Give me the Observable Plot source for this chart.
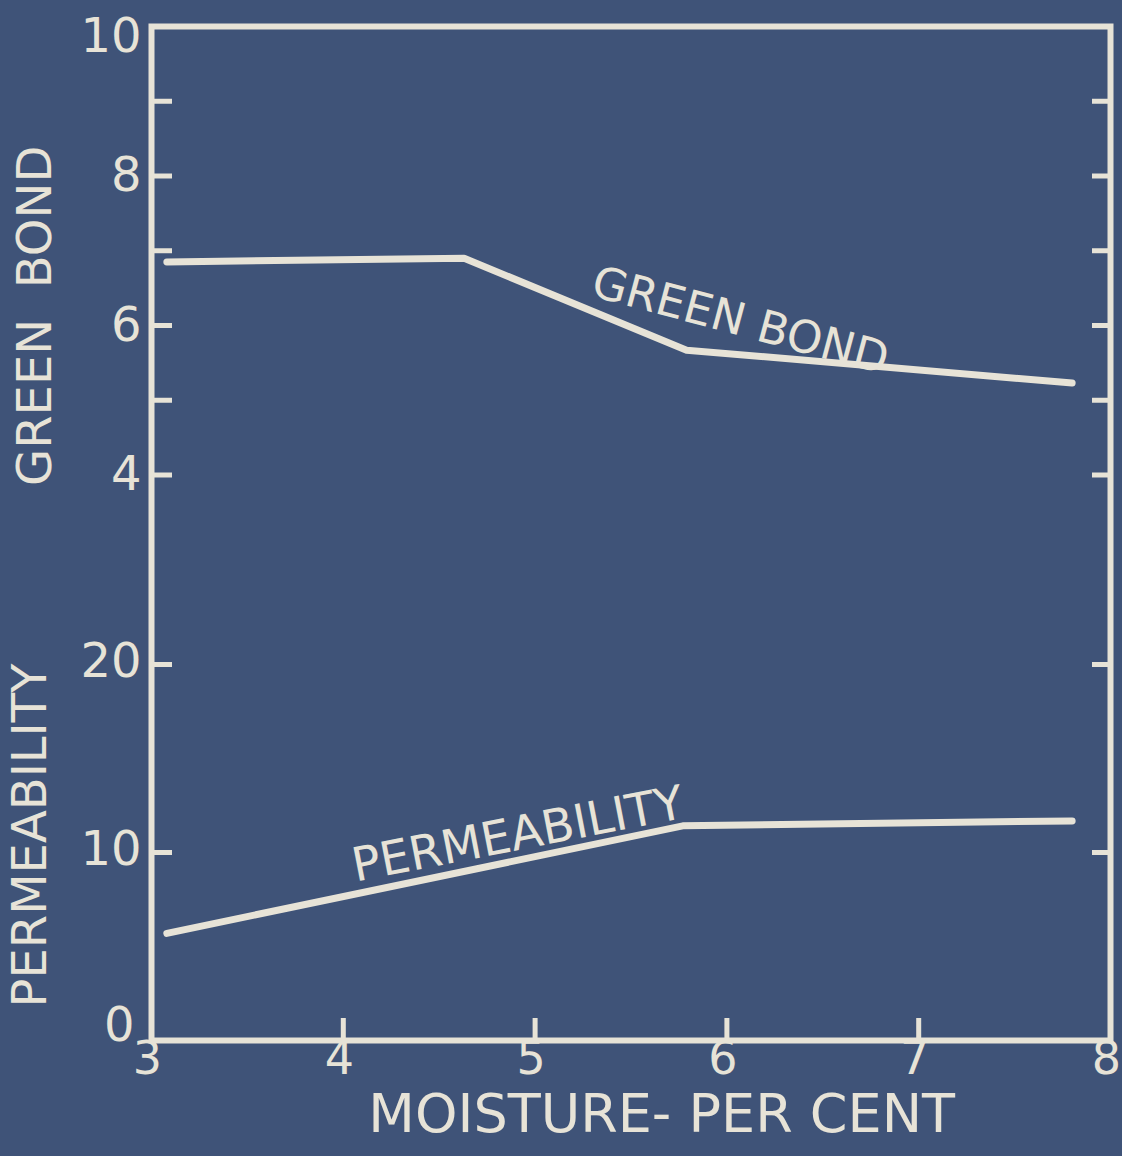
<!DOCTYPE html>
<html>
<head>
<meta charset="utf-8">
<script src="https://cdn.jsdelivr.net/npm/d3@7"></script>
<script src="https://cdn.jsdelivr.net/npm/@observablehq/plot@0.6"></script>
<style>
  html, body { margin: 0; padding: 0; background: #3f5378; }
  #chart svg { display: block; }
</style>
</head>
<body>
<div id="chart"></div>
<script>
// ---- Data ----
const greenBondMoisture = [3.08, 4.63, 5.79, 7.80];
const greenBondValues   = [6.85, 6.90, 5.67, 5.23];

const permMoisture = [3.08, 5.77, 7.80];
const permValues   = [5.70, 11.42, 11.68];

const xTickValues = [3, 4, 5, 6, 7, 8];
const xTickMarks = [4, 5, 6, 7];
const greenBondTickLabels = [4, 6, 8, 10];
const greenBondTickMarks = [4, 5, 6, 7, 8, 9];
const permTickLabels = [0, 10, 20];
const permTickMarks = [10, 20];

const xTitle = "MOISTURE- PER CENT";
const yTitleTop = "GREEN\u00a0\u00a0BOND";
const yTitleBottom = "PERMEABILITY";
const seriesNames = ["GREEN BOND", "PERMEABILITY"];

// ---- Layout / styling ----
const BG = "#3f5378";
const INK = "#e7e3d7";
const W = 1122, H = 1156;
const mL = 151, mR = 12, mT = 26, mB = 116;
const plotW = W - mL - mR, plotH = H - mT - mB;
const pxPerX = plotW / 5;           // px per moisture unit
const pxPerPerm = 18.8;             // px per permeability unit
const pxPerBond = 74.75;            // px per green bond unit
const Y_TOP = plotH / pxPerPerm;    // shared vertical domain (permeability units)
const BOND4 = (H - mB - 474.5) / pxPerPerm; // where bond = 4 sits
const yBond = g => BOND4 + (g - 4) * pxPerBond / pxPerPerm;

const bondData = greenBondMoisture.map((m, i) => ({moisture: m, bond: greenBondValues[i]}));
const permData = permMoisture.map((m, i) => ({moisture: m, perm: permValues[i]}));

const FONT = "'DejaVu Sans', sans-serif";
const tickLabel = {frameAnchor: "left", textAnchor: "end", dx: -10, fontSize: 48, fill: INK};

const chart = Plot.plot({
  width: W, height: H,
  marginLeft: mL, marginRight: mR, marginTop: mT, marginBottom: mB,
  x: {domain: [3, 8], axis: null},
  y: {domain: [0, Y_TOP], axis: null},
  style: {background: BG, color: INK, fontFamily: FONT, overflow: "visible"},
  marks: [
    Plot.frame({stroke: INK, strokeWidth: 6}),
    // inward tick marks: left
    Plot.ruleY(greenBondTickMarks, {y: yBond, x1: 3, x2: 3 + 21 / pxPerX, stroke: INK, strokeWidth: 5}),
    Plot.ruleY(permTickMarks, {y: d => d, x1: 3, x2: 3 + 21 / pxPerX, stroke: INK, strokeWidth: 5}),
    // right
    Plot.ruleY(greenBondTickMarks, {y: yBond, x1: 8 - 18 / pxPerX, x2: 8, stroke: INK, strokeWidth: 5}),
    Plot.ruleY(permTickMarks, {y: d => d, x1: 8 - 18 / pxPerX, x2: 8, stroke: INK, strokeWidth: 5}),
    // bottom
    Plot.ruleX(xTickMarks, {x: d => d, y1: 0, y2: 22 / pxPerPerm, stroke: INK, strokeWidth: 5}),
    // tick labels (left)
    Plot.text(greenBondTickLabels.filter(d => d < 10), {y: yBond, text: d => String(d), ...tickLabel}),
    Plot.text(greenBondTickLabels.filter(d => d === 10), {y: yBond, text: d => String(d), ...tickLabel, dy: 10}),
    Plot.text(permTickLabels.filter(d => d > 0), {y: d => d, text: d => String(d), ...tickLabel, dy: -3}),
    Plot.text(permTickLabels.filter(d => d === 0), {y: d => d, text: d => String(d), ...tickLabel, dx: -17, dy: -15}),
    // tick labels (bottom)
    Plot.text(xTickValues, {x: d => d, text: d => String(d), frameAnchor: "bottom", dy: 33, dx: -4, fontSize: 46, fill: INK}),
    // axis titles
    Plot.text([yTitleTop], {y: yBond(6.13), frameAnchor: "left", textAnchor: "middle", dx: -116, rotate: -90, fontSize: 48, fill: INK}),
    Plot.text([yTitleBottom], {y: 10.9, frameAnchor: "left", textAnchor: "middle", dx: -121, rotate: -90, fontSize: 48, fill: INK}),
    Plot.text([xTitle], {x: 5.66, frameAnchor: "bottom", textAnchor: "middle", dy: 91, fontSize: 54, fill: INK}),
    // series lines
    Plot.line(bondData, {x: "moisture", y: d => yBond(d.bond), stroke: INK, strokeWidth: 7, strokeLinecap: "round", strokeLinejoin: "round"}),
    Plot.line(permData, {x: "moisture", y: "perm", stroke: INK, strokeWidth: 7, strokeLinecap: "round", strokeLinejoin: "round"}),
    // series labels
    Plot.text([seriesNames[0]], {x: 6.07, y: yBond(6.06), rotate: 15, fontSize: 45, fill: INK}),
    Plot.text([seriesNames[1]], {x: 4.91, y: 10.94, rotate: -11, fontSize: 47, fill: INK})
  ]
});

document.getElementById("chart").appendChild(chart);
</script>
</body>
</html>
